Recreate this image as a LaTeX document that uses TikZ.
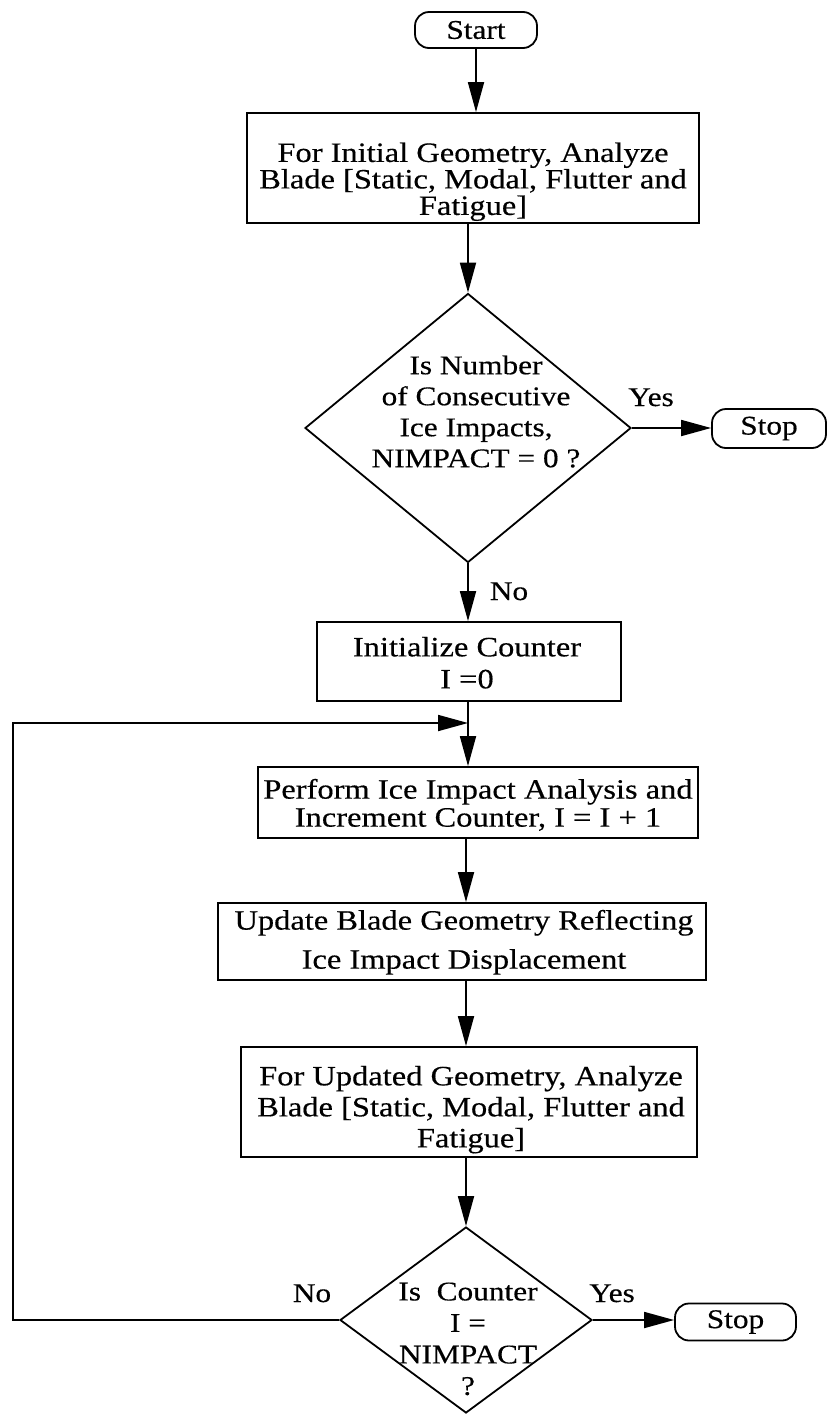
\documentclass[tikz,border=0pt]{standalone}
\usepackage{fontspec}
\setmainfont{Liberation Serif}[FakeStretch=1.16,FakeBold=0.4]
\usetikzlibrary{arrows.meta,shapes.geometric}
\begin{document}
\begin{tikzpicture}[x=1pt,y=-1pt,
  line width=1.8pt,
  arr/.style={-{Triangle[length=30pt,width=16pt]}},
  boxnode/.style={draw,rectangle,inner sep=0pt},
  term/.style={draw,rectangle,rounded corners=14pt,inner sep=0pt,font=\fontsize{27}{30}\selectfont},
  decision/.style={draw,diamond,inner sep=0pt},
  txt/.style={inner sep=0pt,align=center,anchor=north},
  lbl/.style={inner sep=0pt,anchor=base,font=\fontsize{27}{30}\selectfont}]
\useasboundingbox (0,0) rectangle (827,1414);
% terminals
\node[term,minimum width=122pt,minimum height=36pt] (start) at (476,30) {Start};
\node[term,minimum width=114pt,minimum height=39pt] (stop1) at (769,428.5) {Stop};
\node[term,minimum width=121pt,minimum height=37pt] (stop2) at (735.5,1322) {Stop};
% boxes
\node[boxnode,minimum width=452pt,minimum height=110pt] (b1) at (473,168) {};
\node[txt,font=\fontsize{28}{26.5}\selectfont] (t1) at (473,141.6) {For Initial Geometry, Analyze\\Blade [Static, Modal, Flutter and\\Fatigue]};
\node[boxnode,minimum width=304pt,minimum height=79pt] (b2) at (469,661.5) {};
\node[txt,font=\fontsize{28}{32}\selectfont] (t2) at (467,636) {Initialize Counter\\I =0};
\node[boxnode,minimum width=440pt,minimum height=71pt] (b3) at (478,802.5) {};
\node[txt,font=\fontsize{28}{28}\selectfont] (t3) at (478,778) {Perform Ice Impact Analysis and\\Increment Counter, I = I + 1};
\node[boxnode,minimum width=488pt,minimum height=77pt] (b4) at (462,941.5) {};
\node[txt,font=\fontsize{28}{39}\selectfont] (t4) at (464,909) {Update Blade Geometry Reflecting\\Ice Impact Displacement};
\node[boxnode,minimum width=456pt,minimum height=110pt] (b5) at (469,1102) {};
\node[txt,font=\fontsize{28}{31}\selectfont] (t5) at (471,1065) {For Updated Geometry, Analyze\\Blade [Static, Modal, Flutter and\\Fatigue]};
% decisions
\node[decision,minimum width=326pt,minimum height=269pt] (d1) at (468,428) {};
\node[txt,font=\fontsize{27}{31}\selectfont] (dt1) at (476,354.6) {Is Number\\of Consecutive\\Ice Impacts,\\NIMPACT = 0 ?};
\node[decision,minimum width=252pt,minimum height=186pt] (d2) at (466,1320) {};
\node[txt,font=\fontsize{27}{31.5}\selectfont] (dt2) at (468,1281.6) {Is\ \ Counter\\I =\\NIMPACT\\?};
% labels
\node[lbl] (yes1) at (651,406) {Yes};
\node[lbl] (no1) at (509,600) {No};
\node[lbl] (no2) at (312,1302) {No};
\node[lbl] (yes2) at (612,1302) {Yes};
% junction coordinates
\coordinate (jn) at (468,723);
\coordinate (lc) at (13,723);
% connectors
\draw[arr] (start.south) -- (start.south |- b1.north);
\draw[arr] (b1.south -| d1.north) -- (d1.north);
\draw[arr] (d1.east) -- (d1.east -| stop1.west);
\draw[arr] (d1.south) -- (d1.south |- b2.north);
\draw[arr] (b2.south -| jn) -- (jn |- b3.north);
\draw[arr] (d2.west) -| (lc) -- (jn);
\draw[arr] (b3.south -| d2.north) -- (d2.north |- b4.north);
\draw[arr] (b4.south -| d2.north) -- (d2.north |- b5.north);
\draw[arr] (b5.south -| d2.north) -- (d2.north);
\draw[arr] (d2.east) -- (d2.east -| stop2.west);
\end{tikzpicture}
\end{document}
